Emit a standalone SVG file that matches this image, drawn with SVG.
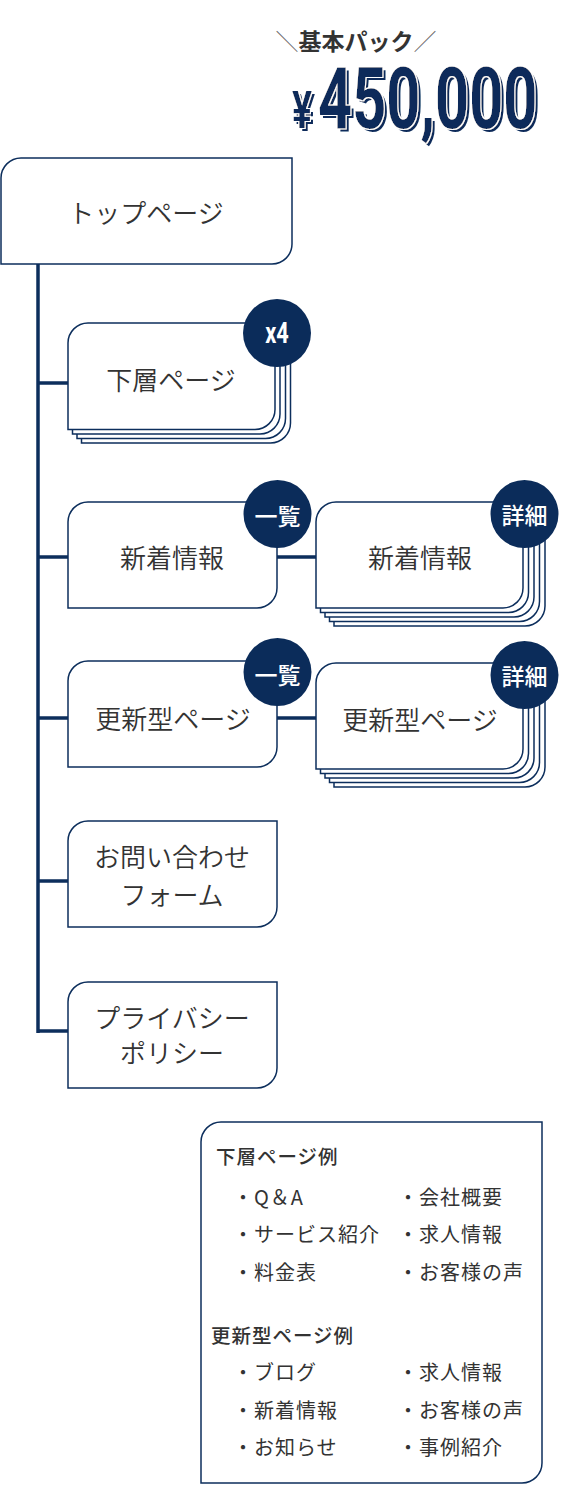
<svg xmlns="http://www.w3.org/2000/svg" width="563" height="1497" viewBox="0 0 563 1497">
<style>
.box{fill:#fff;stroke:#0c2e5c;stroke-width:1.5}
.lbl{font-family:"Noto Sans CJK JP",sans-serif;font-size:26px;font-weight:350;fill:#333;text-anchor:middle}
.conn{stroke:#0c2e5c;stroke-width:3.5;fill:none}
.bc{fill:#0b2c5a}
.bt{font-family:"Noto Sans CJK JP",sans-serif;font-size:23px;font-weight:500;fill:#fff;text-anchor:middle}
.num{font-family:Roboto,"Liberation Sans",sans-serif;font-weight:700}
.lg{font-family:"Noto Sans CJK JP",sans-serif;font-size:20px;fill:#333;letter-spacing:1px}
.lh{font-family:"Noto Sans CJK JP",sans-serif;font-size:19.5px;fill:#333;font-weight:500;letter-spacing:1px}
</style>
<defs>
  <filter id="deco" x="-10%" y="-20%" width="130%" height="150%">
    <feOffset in="SourceAlpha" dx="3" dy="3" result="off"/>
    <feFlood flood-color="#0b2c5a" result="navy"/>
    <feComposite in="navy" in2="off" operator="in" result="shadow"/>
    <feMorphology in="SourceAlpha" operator="dilate" radius="1.3" result="dil"/>
    <feFlood flood-color="#ffffff" result="white"/>
    <feComposite in="white" in2="dil" operator="in" result="border"/>
    <feMerge>
      <feMergeNode in="shadow"/>
      <feMergeNode in="border"/>
      <feMergeNode in="SourceGraphic"/>
    </feMerge>
  </filter>
</defs>
<rect width="563" height="1497" fill="#fff"/>

<g id="price">
  <text x="356" y="50" text-anchor="middle" font-family="'Noto Sans CJK JP',sans-serif" font-size="23" fill="#333"><tspan font-weight="300" fill="#666">＼</tspan><tspan font-weight="700">基本パック</tspan><tspan font-weight="300" fill="#666">／</tspan></text>
  <g filter="url(#deco)">
    <g transform="translate(292,128) scale(0.72,1)"><text class="num" x="0" y="0" font-size="52" fill="#0b2c5a">¥</text></g>
    <g transform="translate(318,128) scale(0.70,1)"><text class="num" x="0" y="0" font-size="85" fill="#0b2c5a">450,000</text></g>
  </g>
</g>

<g id="connectors">
  <path class="conn" d="M38,264 V1033"/>
  <path class="conn" d="M38,383 H68 M38,557 H68 M38,718 H68 M38,881 H68 M38,1031 H68"/>
  <path class="conn" d="M277,557 H316 M277,718 H316"/>
</g>

<g id="top-page">
  <path class="box" d="M1,178 A20,20 0 0 1 21,158 H292 V244 A20,20 0 0 1 272,264 H1 Z"/>
  <text class="lbl" x="146" y="223">トップページ</text>
</g>

<g id="lower-page">
  <path class="box" d="M81.5,356.5 A20,20 0 0 1 101.5,336.5 H290.5 V423 A20,20 0 0 1 270.5,443 H81.5 Z"/>
  <path class="box" d="M77,352 A20,20 0 0 1 97,332 H285.5 V418.5 A20,20 0 0 1 265.5,438.5 H77 Z"/>
  <path class="box" d="M72.5,347.5 A20,20 0 0 1 92.5,327.5 H280 V414 A20,20 0 0 1 260,434 H72.5 Z"/>
  <path class="box" d="M68,343 A20,20 0 0 1 88,323 H275 V409.5 A20,20 0 0 1 255,429.5 H68 Z"/>
  <text class="lbl" x="171" y="390">下層ページ</text>
  <circle class="bc" cx="277" cy="333" r="34"/>
  <g transform="translate(277,343) scale(0.75,1)"><text class="num" x="0" y="0" font-size="29" fill="#fff" text-anchor="middle">x4</text></g>
</g>

<g id="news-list">
  <path class="box" d="M68,522 A20,20 0 0 1 88,502 H277 V588 A20,20 0 0 1 257,608 H68 Z"/>
  <text class="lbl" x="172" y="568">新着情報</text>
  <circle class="bc" cx="277.5" cy="514" r="34"/>
  <text class="bt" x="277.5" y="525">一覧</text>
</g>

<g id="news-detail">
  <path class="box" d="M334,540 A20,20 0 0 1 354,520 H545 V606 A20,20 0 0 1 525,626 H334 Z"/>
  <path class="box" d="M329.5,535.5 A20,20 0 0 1 349.5,515.5 H539.5 V601.5 A20,20 0 0 1 519.5,621.5 H329.5 Z"/>
  <path class="box" d="M325,531 A20,20 0 0 1 345,511 H534 V597 A20,20 0 0 1 514,617 H325 Z"/>
  <path class="box" d="M320.5,526.5 A20,20 0 0 1 340.5,506.5 H528.5 V592.5 A20,20 0 0 1 508.5,612.5 H320.5 Z"/>
  <path class="box" d="M316,522 A20,20 0 0 1 336,502 H523 V588 A20,20 0 0 1 503,608 H316 Z"/>
  <text class="lbl" x="420" y="568">新着情報</text>
  <circle class="bc" cx="524.5" cy="514" r="34"/>
  <text class="bt" x="524.5" y="524">詳細</text>
</g>

<g id="update-list">
  <path class="box" d="M68,681 A20,20 0 0 1 88,661 H277 V747 A20,20 0 0 1 257,767 H68 Z"/>
  <text class="lbl" x="173" y="729">更新型ページ</text>
  <circle class="bc" cx="277.5" cy="672" r="34"/>
  <text class="bt" x="277.5" y="684">一覧</text>
</g>

<g id="update-detail">
  <path class="box" d="M334,701 A20,20 0 0 1 354,681 H545 V767 A20,20 0 0 1 525,787 H334 Z"/>
  <path class="box" d="M329.5,696.5 A20,20 0 0 1 349.5,676.5 H539.5 V762.5 A20,20 0 0 1 519.5,782.5 H329.5 Z"/>
  <path class="box" d="M325,692 A20,20 0 0 1 345,672 H534 V758 A20,20 0 0 1 514,778 H325 Z"/>
  <path class="box" d="M320.5,687.5 A20,20 0 0 1 340.5,667.5 H528.5 V753.5 A20,20 0 0 1 508.5,773.5 H320.5 Z"/>
  <path class="box" d="M316,683 A20,20 0 0 1 336,663 H523 V749 A20,20 0 0 1 503,769 H316 Z"/>
  <text class="lbl" x="420" y="730">更新型ページ</text>
  <circle class="bc" cx="524.5" cy="675" r="34"/>
  <text class="bt" x="524.5" y="685">詳細</text>
</g>

<g id="contact">
  <path class="box" d="M68,841 A20,20 0 0 1 88,821 H277 V907 A20,20 0 0 1 257,927 H68 Z"/>
  <text class="lbl" x="172" y="867">お問い合わせ</text>
  <text class="lbl" x="172" y="905">フォーム</text>
</g>

<g id="privacy">
  <path class="box" d="M68,1002 A20,20 0 0 1 88,982 H277 V1068 A20,20 0 0 1 257,1088 H68 Z"/>
  <text class="lbl" x="172" y="1028">プライバシー</text>
  <text class="lbl" x="172" y="1063">ポリシー</text>
</g>

<g id="legend">
  <path class="box" d="M201,1142 A20,20 0 0 1 221,1122 H542 V1463 A20,20 0 0 1 522,1483 H201 Z"/>
  <text class="lh" x="216" y="1164">下層ページ例</text>
  <text class="lg" x="233" y="1205">・Q＆A</text>
  <text class="lg" x="398" y="1205">・会社概要</text>
  <text class="lg" x="233" y="1242">・サービス紹介</text>
  <text class="lg" x="398" y="1242">・求人情報</text>
  <text class="lg" x="233" y="1280">・料金表</text>
  <text class="lg" x="398" y="1280">・お客様の声</text>
  <text class="lh" x="211" y="1343">更新型ページ例</text>
  <text class="lg" x="233" y="1380">・ブログ</text>
  <text class="lg" x="398" y="1380">・求人情報</text>
  <text class="lg" x="233" y="1418">・新着情報</text>
  <text class="lg" x="398" y="1418">・お客様の声</text>
  <text class="lg" x="233" y="1455">・お知らせ</text>
  <text class="lg" x="398" y="1455">・事例紹介</text>
</g>
</svg>
